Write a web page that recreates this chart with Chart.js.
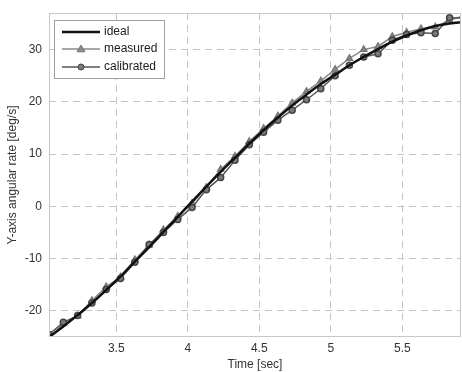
<!DOCTYPE html>
<html>
<head>
<meta charset="utf-8">
<script src="https://cdn.jsdelivr.net/npm/chart.js@4.4.0/dist/chart.umd.min.js"></script>
<style>
  html, body { margin: 0; padding: 0; background: #fff; }
  #wrap { width: 462px; height: 372px; }
</style>
</head>
<body>
<div id="wrap"><canvas id="myChart" width="462" height="372"></canvas></div>
<script>
// sample times [sec]
var times = [3.03, 3.13, 3.23, 3.33, 3.43, 3.53, 3.63, 3.73, 3.83, 3.93,
             4.03, 4.13, 4.23, 4.33, 4.43, 4.53, 4.63, 4.73, 4.83, 4.93,
             5.03, 5.13, 5.23, 5.33, 5.43, 5.53, 5.63, 5.73, 5.83, 5.93];
// angular rate [deg/s]
var ideal = [-25.0, -23.0, -20.8, -18.5, -16.0, -13.4, -10.6, -7.8, -4.9, -2.0,
             0.9, 3.8, 6.6, 9.3, 12.0, 14.6, 17.0, 19.3, 21.4, 23.4,
             25.2, 27.0, 28.6, 30.1, 31.5, 32.7, 33.7, 34.5, 35.0, 35.3];
var measured = [-25.3, -22.4, -21.0, -18.0, -15.4, -13.5, -10.2, -7.4, -4.5, -1.9,
                0.6, 3.6, 7.1, 9.6, 12.4, 14.9, 17.3, 19.8, 22.0, 24.0,
                26.2, 28.3, 30.0, 30.6, 32.5, 33.3, 34.0, 34.3, 35.6, 36.5];
var calibrated = [-24.5, -22.2, -20.9, -18.5, -15.9, -13.8, -10.7, -7.3, -5.0, -2.5,
                  -0.2, 3.2, 5.5, 8.8, 11.8, 14.2, 16.5, 18.4, 20.4, 22.5,
                  25.0, 27.0, 28.6, 29.2, 31.8, 32.9, 33.2, 33.1, 36.1, 36.0];
var xTicks = [3.5, 4, 4.5, 5, 5.5];
var yTicks = [-20, -10, 0, 10, 20, 30];

function pts(ys) {
  var out = [];
  for (var i = 0; i < times.length; i++) out.push({ x: times[i], y: ys[i] });
  return out;
}

var FONT = "'Liberation Sans', Arial, sans-serif";

// frame round the plot + legend box inside the chart area
var framePlugin = {
  id: 'frame',
  afterDraw: function (chart) {
    var ctx = chart.ctx, a = chart.chartArea;
    ctx.save();
    ctx.strokeStyle = '#c8c8c8';
    ctx.lineWidth = 1;
    ctx.strokeRect(a.left + 0.5, a.top + 0.5, a.right - a.left - 1, a.bottom - a.top - 1);

    // legend
    var bx = 54.5, by = 20.5, bw = 110, bh = 58;
    ctx.fillStyle = '#fff';
    ctx.fillRect(bx, by, bw, bh);
    ctx.strokeStyle = '#a0a0a0';
    ctx.strokeRect(bx, by, bw, bh);
    ctx.font = '12px ' + FONT;
    ctx.textBaseline = 'middle';
    var rows = [32, 49, 67];
    chart.data.datasets.forEach(function (ds, i) {
      var y = rows[i];
      ctx.strokeStyle = ds.borderColor;
      ctx.lineWidth = ds.borderWidth;
      ctx.beginPath();
      ctx.moveTo(62, y);
      ctx.lineTo(100, y);
      ctx.stroke();
      if (ds.pointRadius > 0) {
        ctx.fillStyle = ds.pointBackgroundColor;
        ctx.strokeStyle = ds.pointBorderColor;
        ctx.lineWidth = 1;
        ctx.beginPath();
        if (ds.pointStyle === 'triangle') {
          var r = ds.pointRadius + 0.5;
          ctx.moveTo(81, y - r);
          ctx.lineTo(81 + r, y + r * 0.7);
          ctx.lineTo(81 - r, y + r * 0.7);
          ctx.closePath();
        } else {
          ctx.arc(81, y, ds.pointRadius, 0, Math.PI * 2);
        }
        ctx.fill();
        ctx.stroke();
      }
      ctx.fillStyle = '#222';
      ctx.fillText(ds.label, 104, y);
    });
    ctx.restore();
  }
};

var ctx = document.getElementById('myChart').getContext('2d');
var chart = new Chart(ctx, {
  type: 'line',
  data: {
    datasets: [{
      label: 'ideal',
      data: pts(ideal),
      borderColor: '#111',
      borderWidth: 2.5,
      pointRadius: 0,
      tension: 0.4,
      order: 0
    }, {
      label: 'measured',
      data: pts(measured),
      borderColor: '#8a8a8a',
      borderWidth: 1.5,
      pointStyle: 'triangle',
      pointRadius: 3.5,
      pointBackgroundColor: '#8a8a8a',
      pointBorderColor: '#777',
      tension: 0,
      order: 2
    }, {
      label: 'calibrated',
      data: pts(calibrated),
      borderColor: '#555',
      borderWidth: 1.5,
      pointStyle: 'circle',
      pointRadius: 3,
      pointBackgroundColor: '#7a7a7a',
      pointBorderColor: '#444',
      tension: 0,
      order: 1
    }]
  },
  options: {
    responsive: false,
    animation: false,
    layout: { autoPadding: false, padding: { top: 13, right: 1, left: 0, bottom: 0 } },
    plugins: {
      legend: { display: false },
      tooltip: { enabled: false }
    },
    scales: {
      x: {
        type: 'linear',
        min: 3.03,
        max: 5.91,
        afterBuildTicks: function (s) { s.ticks = xTicks.map(function (v) { return { value: v }; }); },
        afterFit: function (s) { s.height = 35; s.paddingLeft = 0; s.paddingRight = 0; },
        grid: { color: '#c4c4c4', tickLength: 0, drawTicks: false },
        border: { display: false, dash: [7, 5] },
        ticks: { color: '#333', font: { family: FONT, size: 12 }, padding: 4, maxRotation: 0,
                 callback: function (v) { return String(v); } },
        title: { display: true, text: 'Time [sec]', color: '#333', font: { family: FONT, size: 12 }, padding: { top: 0, bottom: 0 } }
      },
      y: {
        min: -25,
        max: 37,
        afterBuildTicks: function (s) { s.ticks = yTicks.map(function (v) { return { value: v }; }); },
        afterFit: function (s) { s.width = 49; s.paddingTop = 0; s.paddingBottom = 0; },
        grid: { color: '#c4c4c4', drawTicks: false },
        border: { display: false, dash: [7, 5] },
        ticks: { color: '#333', font: { family: FONT, size: 12 }, padding: 7 },
        title: { display: true, text: 'Y-axis angular rate [deg/s]', color: '#333', font: { family: FONT, size: 12 }, padding: { top: 5, bottom: 0 } }
      }
    }
  },
  plugins: [framePlugin]
});
</script>
</body>
</html>
